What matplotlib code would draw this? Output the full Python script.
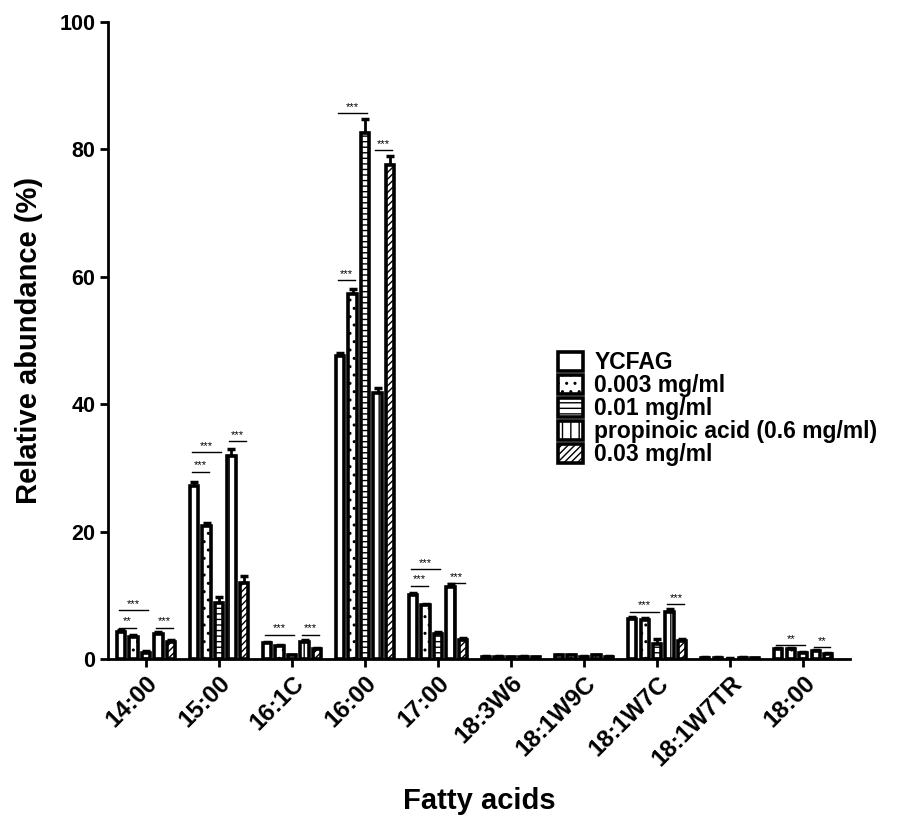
import matplotlib
matplotlib.use("Agg")
import matplotlib.pyplot as plt
import numpy as np

plt.rcParams["font.family"] = ["Liberation Sans", "DejaVu Sans"]
plt.rcParams["font.weight"] = "bold"
plt.rcParams["hatch.linewidth"] = 1.0

categories = ["14:00", "15:00", "16:1C", "16:00", "17:00",
              "18:3W6", "18:1W9C", "18:1W7C", "18:1W7TR", "18:00"]
series_names = ["YCFAG", "0.003 mg/ml", "0.01 mg/ml",
                "propinoic acid (0.6 mg/ml)", "0.03 mg/ml"]

ycfag = [4.3, 27.2, 2.5, 47.5, 10.0, 0.35, 0.55, 6.3, 0.2, 1.6]
c0003 = [3.4, 20.8, 2.0, 57.3, 8.4, 0.35, 0.55, 6.1, 0.2, 1.5]
c001 = [1.0, 8.8, 0.6, 82.5, 3.9, 0.25, 0.3, 2.4, 0.05, 1.0]
propionic = [3.9, 31.8, 2.7, 41.8, 11.3, 0.35, 0.55, 7.4, 0.2, 1.3]
c003 = [2.6, 12.0, 1.5, 77.5, 3.0, 0.25, 0.3, 2.8, 0.15, 0.8]

err_ycfag = [0.3, 0.6, 0.2, 0.6, 0.3, 0.1, 0.1, 0.3, 0.05, 0.2]
err_c0003 = [0.3, 0.6, 0.2, 0.8, 0.3, 0.1, 0.1, 0.3, 0.05, 0.2]
err_c001 = [0.2, 1.0, 0.1, 2.2, 0.4, 0.1, 0.1, 0.7, 0.05, 0.1]
err_propionic = [0.3, 1.2, 0.2, 0.8, 0.4, 0.1, 0.1, 0.4, 0.05, 0.1]
err_c003 = [0.3, 1.0, 0.2, 1.4, 0.3, 0.1, 0.1, 0.3, 0.05, 0.1]

# significance brackets: category, first bar, last bar, height, stars
sig_cat = [0, 0, 0, 1, 1, 1, 2, 2, 3, 3, 3, 4, 4, 4, 7, 7, 9, 9]
sig_from = [0, 0, 3, 0, 0, 3, 0, 3, 0, 0, 3, 0, 0, 3, 0, 3, 0, 3]
sig_to = [1, 2, 4, 1, 2, 4, 2, 4, 1, 2, 4, 1, 2, 4, 2, 4, 2, 4]
sig_y = [4.9, 7.7, 4.9, 29.4, 32.5, 34.2, 3.8, 3.8, 59.5, 85.7, 79.9,
         11.5, 14.1, 11.9, 7.4, 8.6, 2.2, 1.9]
sig_text = ["**", "***", "***", "***", "***", "***", "***", "***", "***",
            "***", "***", "***", "***", "***", "***", "***", "**", "**"]

values = [ycfag, c0003, c001, propionic, c003]
errors = [err_ycfag, err_c0003, err_c001, err_propionic, err_c003]
hatches = ["", "..", "---", "||", "/////"]

x = np.arange(len(categories))
step = 0.171
width = 0.115
offsets = (np.arange(5) - 2) * step

fig = plt.figure(figsize=(9.03, 8.19), dpi=100)
ax = fig.add_axes([0.1196, 0.1954, 0.8217, 0.7778])

for i in range(5):
    xs = x + offsets[i]
    ax.bar(xs, values[i], width, color="white", edgecolor="black",
           linewidth=2.6, hatch=hatches[i], label=series_names[i], zorder=3)
    ax.errorbar(xs, values[i], yerr=[np.zeros(len(x)), errors[i]], fmt="none",
                ecolor="black", elinewidth=2.0, capsize=3, capthick=2.5, zorder=2)

for c, a, b, h, s in zip(sig_cat, sig_from, sig_to, sig_y, sig_text):
    x0 = c + offsets[a] - 0.03
    x1 = c + offsets[b] + 0.03
    ax.plot([x0, x1], [h, h], color="black", linewidth=1.0, zorder=4)
    ax.text((x0 + x1) / 2, h + 0.2, s, ha="center", va="bottom",
            fontsize=8, fontweight="normal")

ax.set_xlim(-0.52, 9.64)
ax.set_ylim(0, 100)
ax.set_yticks([0, 20, 40, 60, 80, 100])
ax.set_xticks(x)
ax.set_xticklabels(categories, rotation=45, ha="right", rotation_mode="anchor",
                   fontsize=17.5, fontweight="bold")
for lab in ax.get_yticklabels():
    lab.set_fontsize(15.5)
    lab.set_fontweight("bold")

for side in ["top", "right"]:
    ax.spines[side].set_visible(False)
for side in ["left", "bottom"]:
    ax.spines[side].set_linewidth(2.0)
ax.tick_params(axis="both", direction="out", length=6, width=2.0, pad=3)

ax.set_ylabel("Relative abundance (%)", fontsize=21, fontweight="bold", labelpad=12)
ax.set_xlabel("Fatty acids", fontsize=21, fontweight="bold", labelpad=12)

leg = ax.legend(loc="upper left", bbox_to_anchor=(0.605, 0.585),
                bbox_transform=fig.transFigure, frameon=False,
                prop={"size": 16.5, "weight": "bold"}, handlelength=1.1,
                handleheight=0.85, labelspacing=0.0, handletextpad=0.5,
                borderpad=0)

fig.savefig("out.png", dpi=100)
